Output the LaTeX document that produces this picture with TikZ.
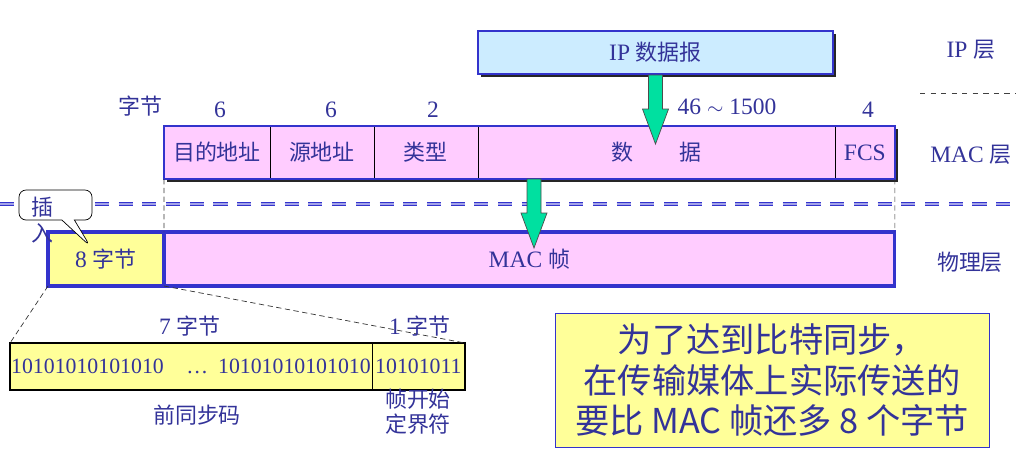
\documentclass[tikz,border=0pt]{standalone}
\usepackage{fontspec}
\setmainfont{Liberation Serif}[Scale=1.07]
\newfontfamily\cjk{Noto Sans CJK SC}
\usetikzlibrary{positioning,shadows,shapes.callouts,calc}

\definecolor{txtblue}{RGB}{51,51,153}
\definecolor{lineblue}{RGB}{51,51,204}
\definecolor{macpink}{RGB}{255,204,255}
\definecolor{synyellow}{RGB}{255,255,153}
\definecolor{iplight}{RGB}{204,236,255}
\definecolor{arrowgreen}{RGB}{0,224,160}

\newcommand{\zh}[1]{{\cjk #1}}

\begin{document}
\begin{tikzpicture}[
    x=0.02cm, y=-0.02cm,
    lbl/.style={text=txtblue, font=\fontsize{12.5}{15}\selectfont, inner sep=0pt},
    shadowed/.style={drop shadow={shadow xshift=0.06cm, shadow yshift=-0.06cm, fill=black!85, opacity=1}},
    field/.style={rectangle, draw=black, thin, fill=macpink, minimum height=1.06cm, outer sep=0pt, inner sep=0pt, lbl, shadowed},
    phys/.style={rectangle, draw=lineblue, line width=1.8pt, minimum height=1.08cm, outer sep=0pt, inner sep=0pt, lbl},
    bits/.style={rectangle, draw=black, thin, fill=synyellow, minimum height=0.94cm, outer sep=0pt, inner sep=0pt, lbl, font=\fontsize{11.6}{14}\selectfont},
    guide/.style={densely dashed, thin, black!80},
    greenarrow/.style={draw=black!70, thin, fill=arrowgreen}
]
\useasboundingbox (0,0) rectangle (1018,458);

% Layer boundary
\draw[draw=lineblue, line width=0.6pt, double=lineblue!45, double distance=1.3pt, dash pattern=on 8pt off 5.5pt] (0,204) -- (1018,204);
\draw[dashed, black!75, thin] (920,93) -- (1015,93);

% IP datagram
\node[rectangle, draw=lineblue, line width=1.2pt, fill=iplight, minimum width=7.1cm, minimum height=0.86cm, lbl, shadowed] (ip) at (655.5,52.5) {IP \zh{数据报}};

% MAC frame fields
\node[field, minimum width=2.12cm, anchor=west] (dst) at (164,152.5) {\zh{目的地址}};
\node[field, minimum width=2.08cm, right=0pt of dst] (src) {\zh{源地址}};
\node[field, minimum width=2.08cm, right=0pt of src] (type) {\zh{类型}};
\node[field, minimum width=7.14cm, right=0pt of type] (data) {\zh{数}\hspace{0.92cm}\zh{据}};
\node[field, minimum width=1.2cm, right=0pt of data] (fcs) {FCS};
\draw[lineblue, line width=1.5pt] (dst.north west) rectangle (fcs.south east);

% Byte counts
\node[lbl] (bytes) at (140,106) {\zh{字节}};
\node[lbl] (n1) at (220,110) {6};
\node[lbl] (n2) at (331,110) {6};
\node[lbl] (n3) at (433,110) {2};
\node[lbl] (n4) at (727,107) {46 $\sim$ 1500};
\node[lbl] (n5) at (868,110) {4};

% Physical layer
\node[phys, fill=synyellow, minimum width=2.32cm] (sync8) at (106,259) {8 \zh{字节}};
\node[phys, fill=macpink, minimum width=14.62cm, anchor=west] (macframe) at (sync8.east) {MAC \zh{帧}};

\draw[guide] (dst.south west) -- (macframe.north west);
\draw[guide] (fcs.south east) -- (macframe.north east);

% Arrows
\draw[greenarrow] ($(ip.south)+(-7,0)$) -- ++(0,34) -- ++(-6,0) -- ++(13,35) -- ++(13,-35) -- ++(-6,0) -- ++(0,-34) -- cycle;
\coordinate (drop) at (534,179);
\draw[greenarrow] ($(drop)+(-7,0)$) -- ++(0,34) -- ++(-6,0) -- ++(13,35) -- ++(13,-35) -- ++(-6,0) -- ++(0,-34) -- cycle;

% Insert callout
\node[rectangle callout, draw=black, thin, fill=white, rounded corners=4pt, minimum width=1.46cm, minimum height=0.6cm, callout absolute pointer={(90,246)}] (insert) at (55.5,205) {};
\node[lbl, align=left, font=\fontsize{12.5}{14.8}\selectfont] (inserttxt) at (42,220) {\zh{插}\\\zh{入}};

% Layer names
\node[lbl] (iplayer) at (971,50) {IP \zh{层}};
\node[lbl] (maclayer) at (971,155) {MAC \zh{层}};
\node[lbl] (phylayer) at (970,262) {\zh{物理层}};

% Preamble detail
\node[bits, minimum width=7.24cm, anchor=west] (pre7) at (10,366.5) {10101010101010\hspace{0.45cm}\ldots\hspace{0.2cm}10101010101010};
\node[bits, minimum width=1.86cm, right=0pt of pre7] (sfd) {10101011};
\draw[black, line width=1.3pt] (pre7.north west) rectangle (sfd.south east);
\draw[guide] (sync8.south west) -- (pre7.north west);
\draw[guide] (sync8.south east) -- (sfd.north east);

\node[lbl] (b7) at (190,326) {7 \zh{字节}};
\node[lbl] (b1) at (420,326) {1 \zh{字节}};
\node[lbl] (pretxt) at (197,415) {\zh{前同步码}};
\node[lbl, align=center, font=\fontsize{12.5}{14.2}\selectfont] (sfdtxt) at (418,412) {\zh{帧开始}\\\zh{定界符}};

% Note
\node[rectangle, draw=lineblue, thin, fill=synyellow, minimum width=8.68cm, minimum height=2.68cm, align=center, text=txtblue, font=\cjk\fontsize{19.5}{23}\selectfont] (note) at (772,380) {为了达到比特同步，\\在传输媒体上实际传送的\\要比 MAC 帧还多 8 个字节};

\end{tikzpicture}
\end{document}
